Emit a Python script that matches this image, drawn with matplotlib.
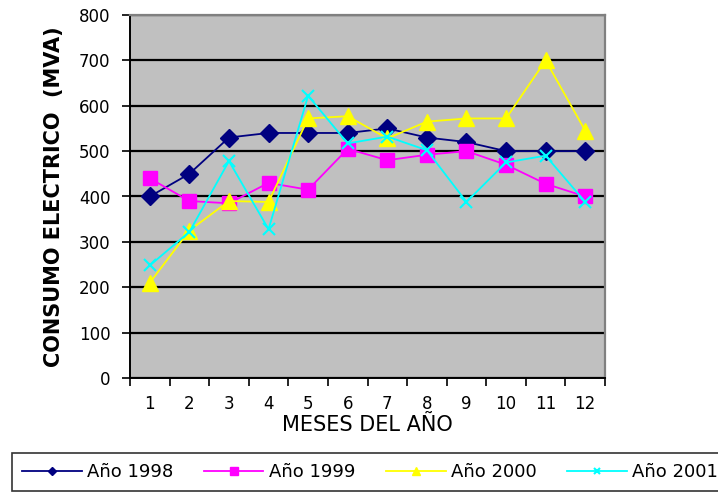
import matplotlib
matplotlib.use("Agg")
import matplotlib.pyplot as plt

months = ["1", "2", "3", "4", "5", "6", "7", "8", "9", "10", "11", "12"]
y1998 = [400, 450, 530, 540, 540, 540, 550, 530, 520, 500, 500, 500]
y1999 = [440, 390, 385, 430, 415, 505, 480, 492, 500, 470, 428, 400]
y2000 = [210, 325, 390, 388, 572, 577, 528, 565, 572, 572, 700, 545]
y2001 = [248, 322, 478, 328, 622, 517, 532, 502, 388, 475, 490, 388]
series_names = ["Año 1998", "Año 1999", "Año 2000", "Año 2001"]
yticks = [0, 100, 200, 300, 400, 500, 600, 700, 800]

plt.rcParams['font.family'] = ['DejaVu Sans']

W, H = 718, 494
fig = plt.figure(figsize=(W / 100, H / 100), dpi=100)
ax = fig.add_axes([130 / W, 1 - 378 / H, 475 / W, 363 / H])
ax.set_facecolor("#C0C0C0")

x = [i + 0.5 for i in range(len(months))]
styles = [
    dict(color="#000080", marker="D", ms=9),
    dict(color="#FF00FF", marker="s", ms=10.5),
    dict(color="#FFFF00", marker="^", ms=11),
    dict(color="#00FFFF", marker="x", ms=9, mew=1.5),
]
handles = []
for data, name, st in zip([y1998, y1999, y2000, y2001], series_names, styles):
    h, = ax.plot(x, data, color=st["color"], marker=st["marker"], ms=st["ms"],
                 mew=st.get("mew", 1), lw=1.3, label=name, clip_on=False, zorder=3)
    handles.append(h)

ax.set_xlim(0, 12)
ax.set_ylim(0, 800)
ax.set_yticks(yticks)
ax.set_yticklabels([str(v) for v in yticks], fontsize=12)
ax.yaxis.grid(True, color="black", lw=1.6)
ax.set_axisbelow(True)

ax.set_xticks(range(13))
ax.set_xticklabels([])
ax.set_xticks(x, minor=True)
ax.set_xticklabels(months, minor=True, fontsize=12)
ax.tick_params(axis="x", which="minor", length=0, pad=12)
ax.tick_params(axis="both", which="major", direction="out", length=6, width=1.2, color="black")
ax.tick_params(axis="y", pad=8)

for s in ["left", "bottom"]:
    ax.spines[s].set_color("black")
    ax.spines[s].set_linewidth(1.4)
for s in ["top", "right"]:
    ax.spines[s].set_color("#808080")
    ax.spines[s].set_linewidth(1.6)

ax.set_xlabel("MESES DEL AÑO", fontsize=15, labelpad=2)
ax.set_ylabel("CONSUMO ELECTRICO  (MVA)", fontsize=15, fontweight="bold", labelpad=11)

leg = fig.legend(handles=handles, labels=series_names, loc="upper left",
                 bbox_to_anchor=(12 / W, 1 - 453 / H),
                 ncol=4, fontsize=13, markerscale=0.5, handlelength=3.3,
                 handletextpad=0.3, columnspacing=1.7, borderpad=0.55,
                 frameon=True, fancybox=False, borderaxespad=0)
leg.get_frame().set_edgecolor("black")
leg.get_frame().set_linewidth(1.2)

fig.savefig("out.png", dpi=100)
